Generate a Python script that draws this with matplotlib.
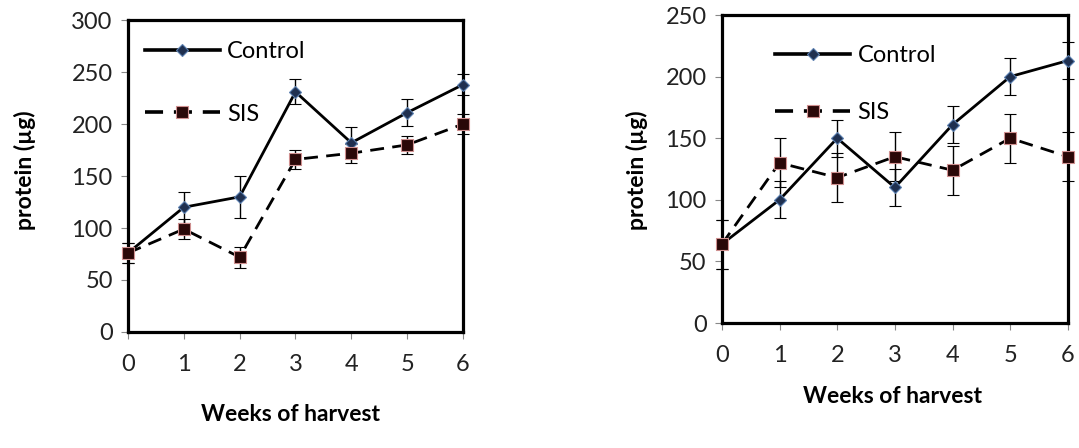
import numpy as np
import matplotlib
matplotlib.use('Agg')
import matplotlib.pyplot as plt
from matplotlib.lines import Line2D

plt.rcParams['font.family'] = ['Lato', 'DejaVu Sans']

# Data
weeks = [0, 1, 2, 3, 4, 5, 6]

# left panel
ctrl_a = [76, 120, 130, 231, 182, 211, 238]
ctrl_a_err = [10, 15, 20, 12, 15, 13, 10]
sis_a = [76, 99, 72, 166, 172, 180, 200]
sis_a_err = [10, 10, 10, 9, 9, 9, 10]

# right panel
ctrl_b = [64, 100, 150, 110, 161, 200, 213]
ctrl_b_err = [20, 15, 15, 15, 15, 15, 15]
sis_b = [64, 130, 118, 135, 124, 150, 135]
sis_b_err = [20, 20, 20, 20, 20, 20, 20]

fig = plt.figure(figsize=(10.79, 4.48), dpi=100)
ax1 = fig.add_axes([0.1186, 0.259, 0.3105, 0.696])
ax2 = fig.add_axes([0.669, 0.279, 0.3207, 0.6875])

ctrl_style = dict(color='black', lw=2, marker='D', ms=6, mfc='#1f3050',
                  mec='#5a7fb0', mew=0.8)
sis_style = dict(color='black', lw=2, ls=(0, (5, 3)), marker='s', ms=9,
                 mfc='#2a0808', mec='#d09090', mew=0.8)


def panel(ax, ctrl, ctrl_err, sis, sis_err, ymax, xlab_xy, ylab_xy, leg_xy, leg_sp):
    ax.errorbar(weeks, ctrl, yerr=ctrl_err, ecolor='black', elinewidth=1,
                capsize=4, clip_on=False, zorder=3, **ctrl_style)
    ax.errorbar(weeks, sis, yerr=sis_err, ecolor='black', elinewidth=1,
                capsize=4, clip_on=False, zorder=3, **sis_style)
    ax.set_xlim(0, 6)
    ax.set_ylim(0, ymax)
    ax.set_xticks(weeks)
    ax.set_yticks(np.arange(0, ymax + 1, 50))
    for s in ax.spines.values():
        s.set_linewidth(2.3)
    ax.tick_params(direction='out', length=5, width=0.8, color='#888888',
                   labelsize=17, labelcolor='#222222')
    ax.tick_params(axis='x', pad=11)
    ax.tick_params(axis='y', pad=6)
    ax.set_xlabel('Weeks of harvest', fontsize=16.5, fontweight='bold')
    ax.set_ylabel('protein (µg)', fontsize=16.5, fontweight='bold')
    ax.xaxis.set_label_coords(*xlab_xy)
    ax.xaxis.label.set_va('center')
    ax.yaxis.set_label_coords(*ylab_xy)
    ax.yaxis.label.set_va('center')
    h1 = Line2D([], [], **ctrl_style)
    h2 = Line2D([], [], **sis_style)
    h1.set_linewidth(2.6)
    h2.set_linewidth(2.6)
    ax.legend([h1, h2], ['Control', 'SIS'], loc='upper left',
              bbox_to_anchor=leg_xy, frameon=False, fontsize=17,
              handlelength=3.2, handletextpad=0.3, labelspacing=leg_sp,
              borderpad=0, borderaxespad=0, numpoints=1)


panel(ax1, ctrl_a, ctrl_a_err, sis_a, sis_a_err, 300,
      (0.484, -0.266), (-0.307, 0.519), (0.05, 0.932), 1.75)
panel(ax2, ctrl_b, ctrl_b_err, sis_b, sis_b_err, 250,
      (0.494, -0.240), (-0.246, 0.497), (0.153, 0.903), 1.55)

plt.savefig('out.png', dpi=100)
